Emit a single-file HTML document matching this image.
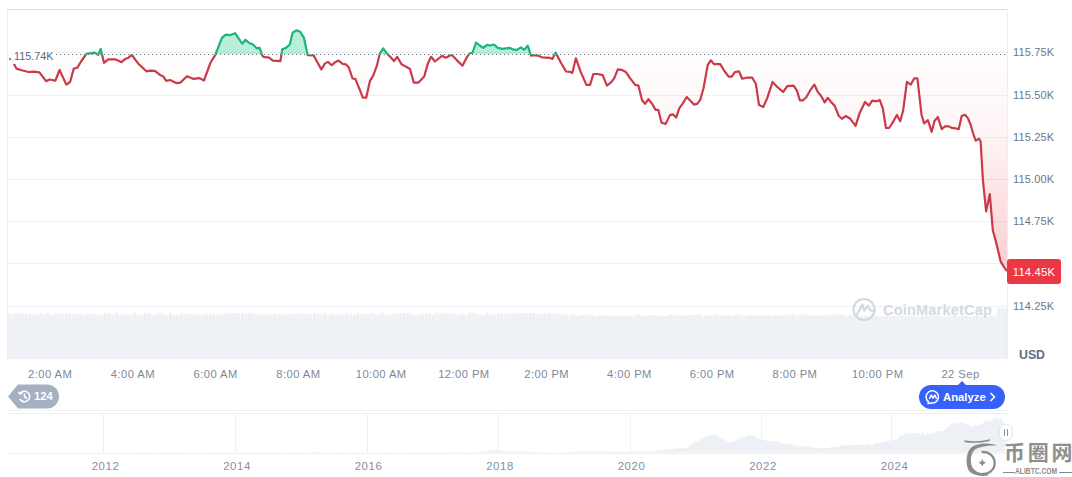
<!DOCTYPE html>
<html><head><meta charset="utf-8"><style>
*{margin:0;padding:0;box-sizing:border-box}
html,body{width:1072px;height:477px;overflow:hidden;background:#fff}
body{position:relative;font-family:"Liberation Sans",Arial,sans-serif;color:#616e85}
svg{position:absolute;left:0;top:0}
.tl{position:absolute;top:367px;width:80px;text-align:center;font-size:11.2px;letter-spacing:0.45px;line-height:14px;color:#7e889b;white-space:nowrap}
.yl{position:absolute;top:459px;width:60px;text-align:center;font-size:11.4px;letter-spacing:0.6px;line-height:14px;color:#858fa1}
.pl{position:absolute;left:1013px;font-size:11px;letter-spacing:0.15px;line-height:16px;color:#6c778a;white-space:nowrap}
#usd{position:absolute;left:1019px;top:347.7px;font-size:12.3px;font-weight:bold;line-height:14px;color:#616e85}
#cur{position:absolute;left:1007px;top:259px;width:54px;height:25px;background:#ea3943;border-radius:3px;color:#fff;font-size:11.3px;letter-spacing:0.15px;line-height:26px;text-align:center}
#ref{position:absolute;left:8px;top:49px;height:15px;padding:0 3px 0 6px;font-size:10.8px;line-height:15px;color:#58667e;background:rgba(255,255,255,0.9)}
#ref:before{content:"";position:absolute;left:0.5px;top:8.5px;width:2.5px;height:2.5px;border-radius:50%;background:#58667e}
#hist{position:absolute;left:8px;top:384px;width:51px;height:25px}
#hist span{position:absolute;left:26px;top:0;line-height:25px;font-size:11.3px;font-weight:bold;color:#fff}
#an{position:absolute;left:919px;top:385px;width:86px;height:24px;border-radius:12px;background:#3861fb;color:#fff}
#an:before{content:"";position:absolute;left:38px;top:-4px;border-left:5px solid transparent;border-right:5px solid transparent;border-bottom:5px solid #3861fb}
#an span{position:absolute;left:24px;top:0;line-height:24px;font-size:11.3px;font-weight:bold}
#cmc{position:absolute;left:883px;top:302px;font-size:14.5px;font-weight:bold;color:#d3d9e3;letter-spacing:0.2px;white-space:nowrap}
#wm1{position:absolute;left:1004px;top:439.5px;font-family:"Liberation Sans","Noto Sans CJK SC",sans-serif;font-size:21px;line-height:26px;color:#8a8a8a;letter-spacing:2.7px;white-space:nowrap;font-weight:bold;color:#8f8f8f}
#wm2{position:absolute;left:1015px;top:466px;font-size:8.6px;line-height:10px;color:#8a8a8a;white-space:nowrap;font-weight:bold;transform:scaleX(0.78);transform-origin:0 0}
#wm2l,#wm2r{position:absolute;top:472px;height:1px;background:#8a8a8a}
</style></head><body>
<svg width="1072" height="477" viewBox="0 0 1072 477">
<defs>
<linearGradient id="rg" gradientUnits="userSpaceOnUse" x1="0" y1="54.5" x2="0" y2="272">
<stop offset="0" stop-color="#ea3943" stop-opacity="0.01"/>
<stop offset="0.35" stop-color="#ea3943" stop-opacity="0.05"/>
<stop offset="1" stop-color="#ea3943" stop-opacity="0.25"/>
</linearGradient>
<clipPath id="above"><rect x="0" y="0" width="1072" height="54.5"/></clipPath>
<clipPath id="below"><rect x="0" y="54.5" width="1072" height="400"/></clipPath>
<clipPath id="plot"><rect x="7" y="9" width="1000" height="351"/></clipPath>
</defs>
<!-- frame -->
<line x1="7" y1="9.5" x2="1008" y2="9.5" stroke="#dedede" stroke-width="1"/>
<line x1="7.5" y1="9" x2="7.5" y2="359" stroke="#eeeeee" stroke-width="1"/>
<line x1="1007.5" y1="9" x2="1007.5" y2="359" stroke="#eeeeee" stroke-width="1"/>
<line x1="7" y1="52.5" x2="1007" y2="52.5" stroke="#eef0f3" stroke-width="1"/>
<line x1="7" y1="95.5" x2="1007" y2="95.5" stroke="#eef0f3" stroke-width="1"/>
<line x1="7" y1="137.5" x2="1007" y2="137.5" stroke="#eef0f3" stroke-width="1"/>
<line x1="7" y1="179.5" x2="1007" y2="179.5" stroke="#eef0f3" stroke-width="1"/>
<line x1="7" y1="221.5" x2="1007" y2="221.5" stroke="#eef0f3" stroke-width="1"/>
<line x1="7" y1="263.5" x2="1007" y2="263.5" stroke="#eef0f3" stroke-width="1"/>
<line x1="7" y1="306.5" x2="1007" y2="306.5" stroke="#eef0f3" stroke-width="1"/>
<rect x="7" y="316" width="1000" height="43" fill="#f6f7f9"/><g fill="#edf0f4"><rect x="7.0" y="312.8" width="2.9" height="46.2" />
<rect x="10.6" y="313.8" width="2.9" height="45.2" />
<rect x="14.2" y="313.8" width="2.9" height="45.2" />
<rect x="17.8" y="312.8" width="2.9" height="46.2" />
<rect x="21.4" y="313.3" width="2.9" height="45.7" />
<rect x="25.0" y="313.8" width="2.9" height="45.2" />
<rect x="28.6" y="313.8" width="2.9" height="45.2" />
<rect x="32.2" y="314.3" width="2.9" height="44.7" />
<rect x="35.8" y="313.8" width="2.9" height="45.2" />
<rect x="39.4" y="312.8" width="2.9" height="46.2" />
<rect x="43.0" y="313.8" width="2.9" height="45.2" />
<rect x="46.6" y="312.8" width="2.9" height="46.2" />
<rect x="50.2" y="314.8" width="2.9" height="44.2" />
<rect x="53.8" y="313.8" width="2.9" height="45.2" />
<rect x="57.4" y="313.3" width="2.9" height="45.7" />
<rect x="61.0" y="313.8" width="2.9" height="45.2" />
<rect x="64.6" y="312.8" width="2.9" height="46.2" />
<rect x="68.2" y="312.8" width="2.9" height="46.2" />
<rect x="71.8" y="314.3" width="2.9" height="44.7" />
<rect x="75.4" y="313.8" width="2.9" height="45.2" />
<rect x="79.0" y="313.8" width="2.9" height="45.2" />
<rect x="82.6" y="314.8" width="2.9" height="44.2" />
<rect x="86.2" y="313.8" width="2.9" height="45.2" />
<rect x="89.8" y="313.8" width="2.9" height="45.2" />
<rect x="93.4" y="313.8" width="2.9" height="45.2" />
<rect x="97.0" y="314.3" width="2.9" height="44.7" />
<rect x="100.6" y="314.8" width="2.9" height="44.2" />
<rect x="104.2" y="312.8" width="2.9" height="46.2" />
<rect x="107.8" y="312.8" width="2.9" height="46.2" />
<rect x="111.4" y="314.3" width="2.9" height="44.7" />
<rect x="115.0" y="312.8" width="2.9" height="46.2" />
<rect x="118.6" y="314.8" width="2.9" height="44.2" />
<rect x="122.2" y="313.8" width="2.9" height="45.2" />
<rect x="125.8" y="313.8" width="2.9" height="45.2" />
<rect x="129.4" y="314.3" width="2.9" height="44.7" />
<rect x="133.0" y="312.8" width="2.9" height="46.2" />
<rect x="136.6" y="314.3" width="2.9" height="44.7" />
<rect x="140.2" y="314.8" width="2.9" height="44.2" />
<rect x="143.8" y="312.8" width="2.9" height="46.2" />
<rect x="147.4" y="312.8" width="2.9" height="46.2" />
<rect x="151.0" y="314.8" width="2.9" height="44.2" />
<rect x="154.6" y="313.8" width="2.9" height="45.2" />
<rect x="158.2" y="312.8" width="2.9" height="46.2" />
<rect x="161.8" y="313.3" width="2.9" height="45.7" />
<rect x="165.4" y="314.8" width="2.9" height="44.2" />
<rect x="169.0" y="312.8" width="2.9" height="46.2" />
<rect x="172.6" y="314.8" width="2.9" height="44.2" />
<rect x="176.2" y="314.8" width="2.9" height="44.2" />
<rect x="179.8" y="313.3" width="2.9" height="45.7" />
<rect x="183.4" y="313.8" width="2.9" height="45.2" />
<rect x="187.0" y="313.8" width="2.9" height="45.2" />
<rect x="190.6" y="314.3" width="2.9" height="44.7" />
<rect x="194.2" y="313.8" width="2.9" height="45.2" />
<rect x="197.8" y="314.3" width="2.9" height="44.7" />
<rect x="201.4" y="314.8" width="2.9" height="44.2" />
<rect x="205.0" y="313.8" width="2.9" height="45.2" />
<rect x="208.6" y="313.8" width="2.9" height="45.2" />
<rect x="212.2" y="314.3" width="2.9" height="44.7" />
<rect x="215.8" y="314.8" width="2.9" height="44.2" />
<rect x="219.4" y="313.8" width="2.9" height="45.2" />
<rect x="223.0" y="313.8" width="2.9" height="45.2" />
<rect x="226.6" y="312.8" width="2.9" height="46.2" />
<rect x="230.2" y="313.3" width="2.9" height="45.7" />
<rect x="233.8" y="312.8" width="2.9" height="46.2" />
<rect x="237.4" y="312.8" width="2.9" height="46.2" />
<rect x="241.0" y="312.8" width="2.9" height="46.2" />
<rect x="244.6" y="313.8" width="2.9" height="45.2" />
<rect x="248.2" y="312.8" width="2.9" height="46.2" />
<rect x="251.8" y="313.3" width="2.9" height="45.7" />
<rect x="255.4" y="314.3" width="2.9" height="44.7" />
<rect x="259.0" y="313.8" width="2.9" height="45.2" />
<rect x="262.6" y="314.8" width="2.9" height="44.2" />
<rect x="266.2" y="314.3" width="2.9" height="44.7" />
<rect x="269.8" y="314.8" width="2.9" height="44.2" />
<rect x="273.4" y="313.3" width="2.9" height="45.7" />
<rect x="277.0" y="313.8" width="2.9" height="45.2" />
<rect x="280.6" y="313.8" width="2.9" height="45.2" />
<rect x="284.2" y="314.8" width="2.9" height="44.2" />
<rect x="287.8" y="313.8" width="2.9" height="45.2" />
<rect x="291.4" y="313.8" width="2.9" height="45.2" />
<rect x="295.0" y="313.3" width="2.9" height="45.7" />
<rect x="298.6" y="313.8" width="2.9" height="45.2" />
<rect x="302.2" y="313.8" width="2.9" height="45.2" />
<rect x="305.8" y="313.8" width="2.9" height="45.2" />
<rect x="309.4" y="313.8" width="2.9" height="45.2" />
<rect x="313.0" y="312.8" width="2.9" height="46.2" />
<rect x="316.6" y="313.3" width="2.9" height="45.7" />
<rect x="320.2" y="314.3" width="2.9" height="44.7" />
<rect x="323.8" y="312.8" width="2.9" height="46.2" />
<rect x="327.4" y="314.8" width="2.9" height="44.2" />
<rect x="331.0" y="313.3" width="2.9" height="45.7" />
<rect x="334.6" y="313.8" width="2.9" height="45.2" />
<rect x="338.2" y="314.3" width="2.9" height="44.7" />
<rect x="341.8" y="314.3" width="2.9" height="44.7" />
<rect x="345.4" y="312.8" width="2.9" height="46.2" />
<rect x="349.0" y="314.3" width="2.9" height="44.7" />
<rect x="352.6" y="314.8" width="2.9" height="44.2" />
<rect x="356.2" y="313.3" width="2.9" height="45.7" />
<rect x="359.8" y="313.8" width="2.9" height="45.2" />
<rect x="363.4" y="313.8" width="2.9" height="45.2" />
<rect x="367.0" y="313.8" width="2.9" height="45.2" />
<rect x="370.6" y="312.8" width="2.9" height="46.2" />
<rect x="374.2" y="314.3" width="2.9" height="44.7" />
<rect x="377.8" y="314.3" width="2.9" height="44.7" />
<rect x="381.4" y="312.8" width="2.9" height="46.2" />
<rect x="385.0" y="314.3" width="2.9" height="44.7" />
<rect x="388.6" y="314.8" width="2.9" height="44.2" />
<rect x="392.2" y="313.8" width="2.9" height="45.2" />
<rect x="395.8" y="313.3" width="2.9" height="45.7" />
<rect x="399.4" y="313.3" width="2.9" height="45.7" />
<rect x="403.0" y="312.8" width="2.9" height="46.2" />
<rect x="406.6" y="312.8" width="2.9" height="46.2" />
<rect x="410.2" y="313.8" width="2.9" height="45.2" />
<rect x="413.8" y="314.8" width="2.9" height="44.2" />
<rect x="417.4" y="314.3" width="2.9" height="44.7" />
<rect x="421.0" y="313.8" width="2.9" height="45.2" />
<rect x="424.6" y="312.8" width="2.9" height="46.2" />
<rect x="428.2" y="313.3" width="2.9" height="45.7" />
<rect x="431.8" y="314.8" width="2.9" height="44.2" />
<rect x="435.4" y="312.8" width="2.9" height="46.2" />
<rect x="439.0" y="313.8" width="2.9" height="45.2" />
<rect x="442.6" y="312.8" width="2.9" height="46.2" />
<rect x="446.2" y="312.8" width="2.9" height="46.2" />
<rect x="449.8" y="313.3" width="2.9" height="45.7" />
<rect x="453.4" y="313.8" width="2.9" height="45.2" />
<rect x="457.0" y="314.8" width="2.9" height="44.2" />
<rect x="460.6" y="313.8" width="2.9" height="45.2" />
<rect x="464.2" y="314.8" width="2.9" height="44.2" />
<rect x="467.8" y="312.8" width="2.9" height="46.2" />
<rect x="471.4" y="312.8" width="2.9" height="46.2" />
<rect x="475.0" y="313.8" width="2.9" height="45.2" />
<rect x="478.6" y="313.8" width="2.9" height="45.2" />
<rect x="482.2" y="314.8" width="2.9" height="44.2" />
<rect x="485.8" y="312.8" width="2.9" height="46.2" />
<rect x="489.4" y="313.8" width="2.9" height="45.2" />
<rect x="493.0" y="314.3" width="2.9" height="44.7" />
<rect x="496.6" y="313.8" width="2.9" height="45.2" />
<rect x="500.2" y="313.3" width="2.9" height="45.7" />
<rect x="503.8" y="313.8" width="2.9" height="45.2" />
<rect x="507.4" y="313.3" width="2.9" height="45.7" />
<rect x="511.0" y="313.8" width="2.9" height="45.2" />
<rect x="514.6" y="312.8" width="2.9" height="46.2" />
<rect x="518.2" y="312.8" width="2.9" height="46.2" />
<rect x="521.8" y="313.3" width="2.9" height="45.7" />
<rect x="525.4" y="312.8" width="2.9" height="46.2" />
<rect x="529.0" y="312.8" width="2.9" height="46.2" />
<rect x="532.6" y="312.8" width="2.9" height="46.2" />
<rect x="536.2" y="313.8" width="2.9" height="45.2" />
<rect x="539.8" y="313.8" width="2.9" height="45.2" />
<rect x="543.4" y="312.8" width="2.9" height="46.2" />
<rect x="547.0" y="312.8" width="2.9" height="46.2" />
<rect x="550.6" y="313.8" width="2.9" height="45.2" />
<rect x="554.2" y="313.3" width="2.9" height="45.7" />
<rect x="557.8" y="313.8" width="2.9" height="45.2" />
<rect x="561.4" y="314.8" width="2.9" height="44.2" />
<rect x="565.0" y="314.3" width="2.9" height="44.7" />
<rect x="568.6" y="315.8" width="2.9" height="43.2" />
<rect x="572.2" y="314.3" width="2.9" height="44.7" />
<rect x="575.8" y="316.3" width="2.9" height="42.7" />
<rect x="579.4" y="314.8" width="2.9" height="44.2" />
<rect x="583.0" y="314.8" width="2.9" height="44.2" />
<rect x="586.6" y="314.8" width="2.9" height="44.2" />
<rect x="590.2" y="314.3" width="2.9" height="44.7" />
<rect x="593.8" y="316.3" width="2.9" height="42.7" />
<rect x="597.4" y="315.3" width="2.9" height="43.7" />
<rect x="601.0" y="315.3" width="2.9" height="43.7" />
<rect x="604.6" y="315.3" width="2.9" height="43.7" />
<rect x="608.2" y="316.3" width="2.9" height="42.7" />
<rect x="611.8" y="315.3" width="2.9" height="43.7" />
<rect x="615.4" y="315.3" width="2.9" height="43.7" />
<rect x="619.0" y="315.8" width="2.9" height="43.2" />
<rect x="622.6" y="316.3" width="2.9" height="42.7" />
<rect x="626.2" y="315.3" width="2.9" height="43.7" />
<rect x="629.8" y="315.8" width="2.9" height="43.2" />
<rect x="633.4" y="315.3" width="2.9" height="43.7" />
<rect x="637.0" y="314.3" width="2.9" height="44.7" />
<rect x="640.6" y="315.3" width="2.9" height="43.7" />
<rect x="644.2" y="316.3" width="2.9" height="42.7" />
<rect x="647.8" y="315.3" width="2.9" height="43.7" />
<rect x="651.4" y="314.8" width="2.9" height="44.2" />
<rect x="655.0" y="315.3" width="2.9" height="43.7" />
<rect x="658.6" y="315.8" width="2.9" height="43.2" />
<rect x="662.2" y="315.8" width="2.9" height="43.2" />
<rect x="665.8" y="315.8" width="2.9" height="43.2" />
<rect x="669.4" y="314.3" width="2.9" height="44.7" />
<rect x="673.0" y="314.8" width="2.9" height="44.2" />
<rect x="676.6" y="315.3" width="2.9" height="43.7" />
<rect x="680.2" y="314.8" width="2.9" height="44.2" />
<rect x="683.8" y="315.3" width="2.9" height="43.7" />
<rect x="687.4" y="314.8" width="2.9" height="44.2" />
<rect x="691.0" y="315.3" width="2.9" height="43.7" />
<rect x="694.6" y="314.8" width="2.9" height="44.2" />
<rect x="698.2" y="314.3" width="2.9" height="44.7" />
<rect x="701.8" y="316.3" width="2.9" height="42.7" />
<rect x="705.4" y="315.3" width="2.9" height="43.7" />
<rect x="709.0" y="315.3" width="2.9" height="43.7" />
<rect x="712.6" y="314.8" width="2.9" height="44.2" />
<rect x="716.2" y="314.3" width="2.9" height="44.7" />
<rect x="719.8" y="315.3" width="2.9" height="43.7" />
<rect x="723.4" y="315.3" width="2.9" height="43.7" />
<rect x="727.0" y="315.3" width="2.9" height="43.7" />
<rect x="730.6" y="315.8" width="2.9" height="43.2" />
<rect x="734.2" y="314.3" width="2.9" height="44.7" />
<rect x="737.8" y="314.3" width="2.9" height="44.7" />
<rect x="741.4" y="315.8" width="2.9" height="43.2" />
<rect x="745.0" y="315.8" width="2.9" height="43.2" />
<rect x="748.6" y="314.8" width="2.9" height="44.2" />
<rect x="752.2" y="315.3" width="2.9" height="43.7" />
<rect x="755.8" y="314.8" width="2.9" height="44.2" />
<rect x="759.4" y="315.8" width="2.9" height="43.2" />
<rect x="763.0" y="314.8" width="2.9" height="44.2" />
<rect x="766.6" y="315.3" width="2.9" height="43.7" />
<rect x="770.2" y="315.8" width="2.9" height="43.2" />
<rect x="773.8" y="314.8" width="2.9" height="44.2" />
<rect x="777.4" y="315.8" width="2.9" height="43.2" />
<rect x="781.0" y="315.3" width="2.9" height="43.7" />
<rect x="784.6" y="314.3" width="2.9" height="44.7" />
<rect x="788.2" y="315.3" width="2.9" height="43.7" />
<rect x="791.8" y="314.3" width="2.9" height="44.7" />
<rect x="795.4" y="315.8" width="2.9" height="43.2" />
<rect x="799.0" y="314.3" width="2.9" height="44.7" />
<rect x="802.6" y="314.8" width="2.9" height="44.2" />
<rect x="806.2" y="314.8" width="2.9" height="44.2" />
<rect x="809.8" y="315.8" width="2.9" height="43.2" />
<rect x="813.4" y="315.3" width="2.9" height="43.7" />
<rect x="817.0" y="314.8" width="2.9" height="44.2" />
<rect x="820.6" y="315.3" width="2.9" height="43.7" />
<rect x="824.2" y="315.3" width="2.9" height="43.7" />
<rect x="827.8" y="314.8" width="2.9" height="44.2" />
<rect x="831.4" y="314.3" width="2.9" height="44.7" />
<rect x="835.0" y="314.8" width="2.9" height="44.2" />
<rect x="838.6" y="314.3" width="2.9" height="44.7" />
<rect x="842.2" y="314.8" width="2.9" height="44.2" />
<rect x="845.8" y="316.3" width="2.9" height="42.7" />
<rect x="849.4" y="314.8" width="2.9" height="44.2" />
<rect x="853.0" y="317.3" width="2.9" height="41.7" />
<rect x="856.6" y="316.3" width="2.9" height="42.7" />
<rect x="860.2" y="315.8" width="2.9" height="43.2" />
<rect x="863.8" y="315.8" width="2.9" height="43.2" />
<rect x="867.4" y="317.3" width="2.9" height="41.7" />
<rect x="871.0" y="316.3" width="2.9" height="42.7" />
<rect x="874.6" y="315.3" width="2.9" height="43.7" />
<rect x="878.2" y="317.3" width="2.9" height="41.7" />
<rect x="881.8" y="317.3" width="2.9" height="41.7" />
<rect x="885.4" y="315.3" width="2.9" height="43.7" />
<rect x="889.0" y="316.3" width="2.9" height="42.7" />
<rect x="892.6" y="316.8" width="2.9" height="42.2" />
<rect x="896.2" y="316.8" width="2.9" height="42.2" />
<rect x="899.8" y="315.3" width="2.9" height="43.7" />
<rect x="903.4" y="315.8" width="2.9" height="43.2" />
<rect x="907.0" y="316.3" width="2.9" height="42.7" />
<rect x="910.6" y="315.3" width="2.9" height="43.7" />
<rect x="914.2" y="316.8" width="2.9" height="42.2" />
<rect x="917.8" y="317.3" width="2.9" height="41.7" />
<rect x="921.4" y="315.8" width="2.9" height="43.2" />
<rect x="925.0" y="315.3" width="2.9" height="43.7" />
<rect x="928.6" y="315.8" width="2.9" height="43.2" />
<rect x="932.2" y="315.3" width="2.9" height="43.7" />
<rect x="935.8" y="316.8" width="2.9" height="42.2" />
<rect x="939.4" y="316.3" width="2.9" height="42.7" />
<rect x="943.0" y="316.8" width="2.9" height="42.2" />
<rect x="946.6" y="316.8" width="2.9" height="42.2" />
<rect x="950.2" y="315.3" width="2.9" height="43.7" />
<rect x="953.8" y="315.3" width="2.9" height="43.7" />
<rect x="957.4" y="316.3" width="2.9" height="42.7" />
<rect x="961.0" y="315.8" width="2.9" height="43.2" />
<rect x="964.6" y="315.8" width="2.9" height="43.2" />
<rect x="968.2" y="316.8" width="2.9" height="42.2" />
<rect x="971.8" y="317.3" width="2.9" height="41.7" />
<rect x="975.4" y="315.3" width="2.9" height="43.7" />
<rect x="979.0" y="316.3" width="2.9" height="42.7" />
<rect x="982.6" y="317.3" width="2.9" height="41.7" />
<rect x="986.2" y="317.3" width="2.9" height="41.7" />
<rect x="989.8" y="315.3" width="2.9" height="43.7" />
<rect x="993.4" y="315.3" width="2.9" height="43.7" />
<rect x="997.0" y="308.0" width="2.9" height="51.0" />
<rect x="1000.6" y="308.0" width="2.9" height="51.0" />
<rect x="1004.2" y="308.0" width="2.9" height="51.0" /></g>
<g clip-path="url(#plot)">
<path d="M9.3,58.7 L12.6,61.2 L16.4,68.6 L21.8,70.3 L28.5,72.0 L33.6,71.6 L39.4,72.3 L46.1,81.2 L49.5,79.5 L55.4,80.7 L59.6,70.0 L66.3,84.6 L70.1,82.0 L73.8,68.6 L77.2,67.8 L81.4,61.0 L86.4,53.9 L91.4,53.2 L94.8,52.7 L98.2,54.9 L100.7,49.0 L104.0,62.8 L108.2,59.4 L115.8,59.4 L121.6,62.2 L125.7,58.7 L128.5,57.7 L131.7,54.9 L138.9,64.3 L146.4,71.3 L150.2,70.6 L154.9,70.9 L159.6,74.7 L163.4,76.6 L166.2,80.8 L170.0,80.0 L176.6,83.2 L180.4,82.6 L187.0,76.2 L193.6,78.9 L199.2,78.1 L204.0,80.4 L210.6,62.5 L215.3,54.9 L221.9,37.9 L225.7,34.7 L230.4,35.1 L235.1,33.2 L238.9,38.9 L242.3,43.6 L245.5,39.8 L249.2,43.0 L253.0,44.5 L256.8,48.3 L259.6,47.9 L262.5,55.8 L263.4,56.8 L269.0,57.7 L272.8,60.6 L280.4,61.1 L282.3,49.2 L286.0,47.9 L289.8,44.5 L292.6,32.8 L296.4,30.4 L300.2,31.7 L304.0,37.9 L307.7,55.2 L313.6,55.4 L317.5,62.5 L321.3,69.4 L325.1,63.4 L327.9,61.9 L331.7,65.3 L335.5,61.9 L338.7,60.6 L342.5,63.8 L345.8,64.3 L348.7,67.2 L352.5,78.5 L355.3,78.9 L359.0,87.9 L362.8,97.7 L366.2,97.7 L370.0,80.8 L373.2,75.7 L377.0,65.3 L379.8,53.6 L383.2,48.3 L387.0,53.6 L390.2,56.8 L394.0,61.1 L397.2,56.8 L401.5,64.3 L406.2,66.8 L410.0,69.0 L413.8,82.6 L418.5,82.6 L424.2,76.6 L427.9,63.4 L431.1,56.8 L434.9,61.5 L442.1,55.8 L445.8,57.7 L449.6,55.8 L451.9,55.0 L457.2,60.6 L462.5,65.7 L466.6,57.7 L469.4,53.6 L472.6,52.5 L476.0,42.6 L479.8,45.5 L483.2,47.9 L487.0,44.9 L490.2,45.5 L494.0,44.5 L497.7,47.9 L502.5,48.9 L509.4,47.8 L512.6,49.3 L516.8,49.9 L521.0,47.4 L524.1,49.9 L527.7,45.7 L531.0,55.6 L534.6,55.2 L537.7,55.6 L541.9,57.3 L550.3,57.9 L552.4,58.9 L555.6,52.6 L560.8,62.5 L566.0,71.5 L570.2,71.9 L572.3,73.0 L575.9,58.3 L580.7,71.9 L586.4,84.9 L590.1,84.9 L593.3,74.0 L597.5,74.0 L602.7,75.1 L606.9,85.6 L611.1,82.4 L614.3,78.2 L617.8,69.4 L621.6,69.8 L625.8,71.9 L630.0,78.2 L635.2,84.9 L638.4,85.6 L642.1,100.2 L645.1,103.8 L648.4,99.2 L652.5,104.4 L655.4,109.6 L658.4,110.2 L661.5,122.8 L665.7,123.9 L669.9,115.1 L673.1,114.4 L676.2,117.6 L679.4,108.1 L682.5,103.9 L686.7,97.0 L690.9,101.2 L694.0,104.6 L697.2,103.9 L700.3,99.7 L703.5,88.2 L707.7,65.2 L710.8,60.3 L713.9,64.1 L720.2,64.1 L724.4,71.0 L728.6,76.7 L731.8,76.7 L734.9,72.1 L739.1,71.4 L742.2,78.8 L746.4,77.7 L752.3,77.7 L755.9,84.0 L759.0,105.0 L763.2,107.1 L767.4,97.7 L772.6,81.9 L777.5,87.2 L783.1,92.0 L787.3,86.1 L793.6,85.7 L796.8,90.3 L799.9,100.3 L803.1,100.3 L806.3,97.2 L810.5,89.8 L814.3,84.6 L817.8,91.9 L821.0,95.7 L824.7,102.4 L827.7,97.8 L831.4,102.4 L834.6,105.6 L838.8,116.0 L841.9,118.8 L845.7,116.0 L850.3,118.8 L855.6,125.9 L859.7,112.9 L865.0,102.0 L868.8,105.6 L872.3,100.7 L876.5,101.4 L879.7,99.9 L882.8,108.3 L886.0,128.0 L889.1,128.0 L892.2,123.4 L896.9,115.0 L900.2,121.3 L903.1,110.8 L906.9,81.9 L910.7,84.6 L914.3,78.3 L917.4,78.3 L921.6,115.0 L924.1,123.4 L927.9,120.2 L931.7,131.8 L934.5,121.0 L937.9,117.0 L941.7,129.2 L945.1,126.4 L948.9,126.4 L951.7,127.9 L955.5,128.3 L958.7,129.2 L961.7,116.0 L964.9,114.7 L967.7,117.9 L970.6,124.5 L973.0,133.0 L975.7,140.6 L979.0,138.7 L980.6,141.5 L982.9,180.0 L986.1,211.4 L989.8,194.2 L992.8,230.3 L996.5,243.9 L1000.7,261.7 L1003.9,266.9 L1007.0,271.1 L1007.0,54.5 L9.3,54.5 Z" fill="url(#rg)" clip-path="url(#below)"/>
<path d="M9.3,58.7 L12.6,61.2 L16.4,68.6 L21.8,70.3 L28.5,72.0 L33.6,71.6 L39.4,72.3 L46.1,81.2 L49.5,79.5 L55.4,80.7 L59.6,70.0 L66.3,84.6 L70.1,82.0 L73.8,68.6 L77.2,67.8 L81.4,61.0 L86.4,53.9 L91.4,53.2 L94.8,52.7 L98.2,54.9 L100.7,49.0 L104.0,62.8 L108.2,59.4 L115.8,59.4 L121.6,62.2 L125.7,58.7 L128.5,57.7 L131.7,54.9 L138.9,64.3 L146.4,71.3 L150.2,70.6 L154.9,70.9 L159.6,74.7 L163.4,76.6 L166.2,80.8 L170.0,80.0 L176.6,83.2 L180.4,82.6 L187.0,76.2 L193.6,78.9 L199.2,78.1 L204.0,80.4 L210.6,62.5 L215.3,54.9 L221.9,37.9 L225.7,34.7 L230.4,35.1 L235.1,33.2 L238.9,38.9 L242.3,43.6 L245.5,39.8 L249.2,43.0 L253.0,44.5 L256.8,48.3 L259.6,47.9 L262.5,55.8 L263.4,56.8 L269.0,57.7 L272.8,60.6 L280.4,61.1 L282.3,49.2 L286.0,47.9 L289.8,44.5 L292.6,32.8 L296.4,30.4 L300.2,31.7 L304.0,37.9 L307.7,55.2 L313.6,55.4 L317.5,62.5 L321.3,69.4 L325.1,63.4 L327.9,61.9 L331.7,65.3 L335.5,61.9 L338.7,60.6 L342.5,63.8 L345.8,64.3 L348.7,67.2 L352.5,78.5 L355.3,78.9 L359.0,87.9 L362.8,97.7 L366.2,97.7 L370.0,80.8 L373.2,75.7 L377.0,65.3 L379.8,53.6 L383.2,48.3 L387.0,53.6 L390.2,56.8 L394.0,61.1 L397.2,56.8 L401.5,64.3 L406.2,66.8 L410.0,69.0 L413.8,82.6 L418.5,82.6 L424.2,76.6 L427.9,63.4 L431.1,56.8 L434.9,61.5 L442.1,55.8 L445.8,57.7 L449.6,55.8 L451.9,55.0 L457.2,60.6 L462.5,65.7 L466.6,57.7 L469.4,53.6 L472.6,52.5 L476.0,42.6 L479.8,45.5 L483.2,47.9 L487.0,44.9 L490.2,45.5 L494.0,44.5 L497.7,47.9 L502.5,48.9 L509.4,47.8 L512.6,49.3 L516.8,49.9 L521.0,47.4 L524.1,49.9 L527.7,45.7 L531.0,55.6 L534.6,55.2 L537.7,55.6 L541.9,57.3 L550.3,57.9 L552.4,58.9 L555.6,52.6 L560.8,62.5 L566.0,71.5 L570.2,71.9 L572.3,73.0 L575.9,58.3 L580.7,71.9 L586.4,84.9 L590.1,84.9 L593.3,74.0 L597.5,74.0 L602.7,75.1 L606.9,85.6 L611.1,82.4 L614.3,78.2 L617.8,69.4 L621.6,69.8 L625.8,71.9 L630.0,78.2 L635.2,84.9 L638.4,85.6 L642.1,100.2 L645.1,103.8 L648.4,99.2 L652.5,104.4 L655.4,109.6 L658.4,110.2 L661.5,122.8 L665.7,123.9 L669.9,115.1 L673.1,114.4 L676.2,117.6 L679.4,108.1 L682.5,103.9 L686.7,97.0 L690.9,101.2 L694.0,104.6 L697.2,103.9 L700.3,99.7 L703.5,88.2 L707.7,65.2 L710.8,60.3 L713.9,64.1 L720.2,64.1 L724.4,71.0 L728.6,76.7 L731.8,76.7 L734.9,72.1 L739.1,71.4 L742.2,78.8 L746.4,77.7 L752.3,77.7 L755.9,84.0 L759.0,105.0 L763.2,107.1 L767.4,97.7 L772.6,81.9 L777.5,87.2 L783.1,92.0 L787.3,86.1 L793.6,85.7 L796.8,90.3 L799.9,100.3 L803.1,100.3 L806.3,97.2 L810.5,89.8 L814.3,84.6 L817.8,91.9 L821.0,95.7 L824.7,102.4 L827.7,97.8 L831.4,102.4 L834.6,105.6 L838.8,116.0 L841.9,118.8 L845.7,116.0 L850.3,118.8 L855.6,125.9 L859.7,112.9 L865.0,102.0 L868.8,105.6 L872.3,100.7 L876.5,101.4 L879.7,99.9 L882.8,108.3 L886.0,128.0 L889.1,128.0 L892.2,123.4 L896.9,115.0 L900.2,121.3 L903.1,110.8 L906.9,81.9 L910.7,84.6 L914.3,78.3 L917.4,78.3 L921.6,115.0 L924.1,123.4 L927.9,120.2 L931.7,131.8 L934.5,121.0 L937.9,117.0 L941.7,129.2 L945.1,126.4 L948.9,126.4 L951.7,127.9 L955.5,128.3 L958.7,129.2 L961.7,116.0 L964.9,114.7 L967.7,117.9 L970.6,124.5 L973.0,133.0 L975.7,140.6 L979.0,138.7 L980.6,141.5 L982.9,180.0 L986.1,211.4 L989.8,194.2 L992.8,230.3 L996.5,243.9 L1000.7,261.7 L1003.9,266.9 L1007.0,271.1 L1007.0,54.5 L9.3,54.5 Z" fill="#16c784" fill-opacity="0.3" clip-path="url(#above)"/>
<line x1="8" y1="54.5" x2="1007" y2="54.5" stroke="#686c74" stroke-width="1" stroke-dasharray="1 3"/>
<path d="M9.3,58.7 L12.6,61.2 L16.4,68.6 L21.8,70.3 L28.5,72.0 L33.6,71.6 L39.4,72.3 L46.1,81.2 L49.5,79.5 L55.4,80.7 L59.6,70.0 L66.3,84.6 L70.1,82.0 L73.8,68.6 L77.2,67.8 L81.4,61.0 L86.4,53.9 L91.4,53.2 L94.8,52.7 L98.2,54.9 L100.7,49.0 L104.0,62.8 L108.2,59.4 L115.8,59.4 L121.6,62.2 L125.7,58.7 L128.5,57.7 L131.7,54.9 L138.9,64.3 L146.4,71.3 L150.2,70.6 L154.9,70.9 L159.6,74.7 L163.4,76.6 L166.2,80.8 L170.0,80.0 L176.6,83.2 L180.4,82.6 L187.0,76.2 L193.6,78.9 L199.2,78.1 L204.0,80.4 L210.6,62.5 L215.3,54.9 L221.9,37.9 L225.7,34.7 L230.4,35.1 L235.1,33.2 L238.9,38.9 L242.3,43.6 L245.5,39.8 L249.2,43.0 L253.0,44.5 L256.8,48.3 L259.6,47.9 L262.5,55.8 L263.4,56.8 L269.0,57.7 L272.8,60.6 L280.4,61.1 L282.3,49.2 L286.0,47.9 L289.8,44.5 L292.6,32.8 L296.4,30.4 L300.2,31.7 L304.0,37.9 L307.7,55.2 L313.6,55.4 L317.5,62.5 L321.3,69.4 L325.1,63.4 L327.9,61.9 L331.7,65.3 L335.5,61.9 L338.7,60.6 L342.5,63.8 L345.8,64.3 L348.7,67.2 L352.5,78.5 L355.3,78.9 L359.0,87.9 L362.8,97.7 L366.2,97.7 L370.0,80.8 L373.2,75.7 L377.0,65.3 L379.8,53.6 L383.2,48.3 L387.0,53.6 L390.2,56.8 L394.0,61.1 L397.2,56.8 L401.5,64.3 L406.2,66.8 L410.0,69.0 L413.8,82.6 L418.5,82.6 L424.2,76.6 L427.9,63.4 L431.1,56.8 L434.9,61.5 L442.1,55.8 L445.8,57.7 L449.6,55.8 L451.9,55.0 L457.2,60.6 L462.5,65.7 L466.6,57.7 L469.4,53.6 L472.6,52.5 L476.0,42.6 L479.8,45.5 L483.2,47.9 L487.0,44.9 L490.2,45.5 L494.0,44.5 L497.7,47.9 L502.5,48.9 L509.4,47.8 L512.6,49.3 L516.8,49.9 L521.0,47.4 L524.1,49.9 L527.7,45.7 L531.0,55.6 L534.6,55.2 L537.7,55.6 L541.9,57.3 L550.3,57.9 L552.4,58.9 L555.6,52.6 L560.8,62.5 L566.0,71.5 L570.2,71.9 L572.3,73.0 L575.9,58.3 L580.7,71.9 L586.4,84.9 L590.1,84.9 L593.3,74.0 L597.5,74.0 L602.7,75.1 L606.9,85.6 L611.1,82.4 L614.3,78.2 L617.8,69.4 L621.6,69.8 L625.8,71.9 L630.0,78.2 L635.2,84.9 L638.4,85.6 L642.1,100.2 L645.1,103.8 L648.4,99.2 L652.5,104.4 L655.4,109.6 L658.4,110.2 L661.5,122.8 L665.7,123.9 L669.9,115.1 L673.1,114.4 L676.2,117.6 L679.4,108.1 L682.5,103.9 L686.7,97.0 L690.9,101.2 L694.0,104.6 L697.2,103.9 L700.3,99.7 L703.5,88.2 L707.7,65.2 L710.8,60.3 L713.9,64.1 L720.2,64.1 L724.4,71.0 L728.6,76.7 L731.8,76.7 L734.9,72.1 L739.1,71.4 L742.2,78.8 L746.4,77.7 L752.3,77.7 L755.9,84.0 L759.0,105.0 L763.2,107.1 L767.4,97.7 L772.6,81.9 L777.5,87.2 L783.1,92.0 L787.3,86.1 L793.6,85.7 L796.8,90.3 L799.9,100.3 L803.1,100.3 L806.3,97.2 L810.5,89.8 L814.3,84.6 L817.8,91.9 L821.0,95.7 L824.7,102.4 L827.7,97.8 L831.4,102.4 L834.6,105.6 L838.8,116.0 L841.9,118.8 L845.7,116.0 L850.3,118.8 L855.6,125.9 L859.7,112.9 L865.0,102.0 L868.8,105.6 L872.3,100.7 L876.5,101.4 L879.7,99.9 L882.8,108.3 L886.0,128.0 L889.1,128.0 L892.2,123.4 L896.9,115.0 L900.2,121.3 L903.1,110.8 L906.9,81.9 L910.7,84.6 L914.3,78.3 L917.4,78.3 L921.6,115.0 L924.1,123.4 L927.9,120.2 L931.7,131.8 L934.5,121.0 L937.9,117.0 L941.7,129.2 L945.1,126.4 L948.9,126.4 L951.7,127.9 L955.5,128.3 L958.7,129.2 L961.7,116.0 L964.9,114.7 L967.7,117.9 L970.6,124.5 L973.0,133.0 L975.7,140.6 L979.0,138.7 L980.6,141.5 L982.9,180.0 L986.1,211.4 L989.8,194.2 L992.8,230.3 L996.5,243.9 L1000.7,261.7 L1003.9,266.9 L1007.0,271.1" fill="none" stroke="#cb3a49" stroke-width="2.2" stroke-linejoin="round" clip-path="url(#below)"/>
<path d="M9.3,58.7 L12.6,61.2 L16.4,68.6 L21.8,70.3 L28.5,72.0 L33.6,71.6 L39.4,72.3 L46.1,81.2 L49.5,79.5 L55.4,80.7 L59.6,70.0 L66.3,84.6 L70.1,82.0 L73.8,68.6 L77.2,67.8 L81.4,61.0 L86.4,53.9 L91.4,53.2 L94.8,52.7 L98.2,54.9 L100.7,49.0 L104.0,62.8 L108.2,59.4 L115.8,59.4 L121.6,62.2 L125.7,58.7 L128.5,57.7 L131.7,54.9 L138.9,64.3 L146.4,71.3 L150.2,70.6 L154.9,70.9 L159.6,74.7 L163.4,76.6 L166.2,80.8 L170.0,80.0 L176.6,83.2 L180.4,82.6 L187.0,76.2 L193.6,78.9 L199.2,78.1 L204.0,80.4 L210.6,62.5 L215.3,54.9 L221.9,37.9 L225.7,34.7 L230.4,35.1 L235.1,33.2 L238.9,38.9 L242.3,43.6 L245.5,39.8 L249.2,43.0 L253.0,44.5 L256.8,48.3 L259.6,47.9 L262.5,55.8 L263.4,56.8 L269.0,57.7 L272.8,60.6 L280.4,61.1 L282.3,49.2 L286.0,47.9 L289.8,44.5 L292.6,32.8 L296.4,30.4 L300.2,31.7 L304.0,37.9 L307.7,55.2 L313.6,55.4 L317.5,62.5 L321.3,69.4 L325.1,63.4 L327.9,61.9 L331.7,65.3 L335.5,61.9 L338.7,60.6 L342.5,63.8 L345.8,64.3 L348.7,67.2 L352.5,78.5 L355.3,78.9 L359.0,87.9 L362.8,97.7 L366.2,97.7 L370.0,80.8 L373.2,75.7 L377.0,65.3 L379.8,53.6 L383.2,48.3 L387.0,53.6 L390.2,56.8 L394.0,61.1 L397.2,56.8 L401.5,64.3 L406.2,66.8 L410.0,69.0 L413.8,82.6 L418.5,82.6 L424.2,76.6 L427.9,63.4 L431.1,56.8 L434.9,61.5 L442.1,55.8 L445.8,57.7 L449.6,55.8 L451.9,55.0 L457.2,60.6 L462.5,65.7 L466.6,57.7 L469.4,53.6 L472.6,52.5 L476.0,42.6 L479.8,45.5 L483.2,47.9 L487.0,44.9 L490.2,45.5 L494.0,44.5 L497.7,47.9 L502.5,48.9 L509.4,47.8 L512.6,49.3 L516.8,49.9 L521.0,47.4 L524.1,49.9 L527.7,45.7 L531.0,55.6 L534.6,55.2 L537.7,55.6 L541.9,57.3 L550.3,57.9 L552.4,58.9 L555.6,52.6 L560.8,62.5 L566.0,71.5 L570.2,71.9 L572.3,73.0 L575.9,58.3 L580.7,71.9 L586.4,84.9 L590.1,84.9 L593.3,74.0 L597.5,74.0 L602.7,75.1 L606.9,85.6 L611.1,82.4 L614.3,78.2 L617.8,69.4 L621.6,69.8 L625.8,71.9 L630.0,78.2 L635.2,84.9 L638.4,85.6 L642.1,100.2 L645.1,103.8 L648.4,99.2 L652.5,104.4 L655.4,109.6 L658.4,110.2 L661.5,122.8 L665.7,123.9 L669.9,115.1 L673.1,114.4 L676.2,117.6 L679.4,108.1 L682.5,103.9 L686.7,97.0 L690.9,101.2 L694.0,104.6 L697.2,103.9 L700.3,99.7 L703.5,88.2 L707.7,65.2 L710.8,60.3 L713.9,64.1 L720.2,64.1 L724.4,71.0 L728.6,76.7 L731.8,76.7 L734.9,72.1 L739.1,71.4 L742.2,78.8 L746.4,77.7 L752.3,77.7 L755.9,84.0 L759.0,105.0 L763.2,107.1 L767.4,97.7 L772.6,81.9 L777.5,87.2 L783.1,92.0 L787.3,86.1 L793.6,85.7 L796.8,90.3 L799.9,100.3 L803.1,100.3 L806.3,97.2 L810.5,89.8 L814.3,84.6 L817.8,91.9 L821.0,95.7 L824.7,102.4 L827.7,97.8 L831.4,102.4 L834.6,105.6 L838.8,116.0 L841.9,118.8 L845.7,116.0 L850.3,118.8 L855.6,125.9 L859.7,112.9 L865.0,102.0 L868.8,105.6 L872.3,100.7 L876.5,101.4 L879.7,99.9 L882.8,108.3 L886.0,128.0 L889.1,128.0 L892.2,123.4 L896.9,115.0 L900.2,121.3 L903.1,110.8 L906.9,81.9 L910.7,84.6 L914.3,78.3 L917.4,78.3 L921.6,115.0 L924.1,123.4 L927.9,120.2 L931.7,131.8 L934.5,121.0 L937.9,117.0 L941.7,129.2 L945.1,126.4 L948.9,126.4 L951.7,127.9 L955.5,128.3 L958.7,129.2 L961.7,116.0 L964.9,114.7 L967.7,117.9 L970.6,124.5 L973.0,133.0 L975.7,140.6 L979.0,138.7 L980.6,141.5 L982.9,180.0 L986.1,211.4 L989.8,194.2 L992.8,230.3 L996.5,243.9 L1000.7,261.7 L1003.9,266.9 L1007.0,271.1" fill="none" stroke="#1bb57c" stroke-width="2.2" stroke-linejoin="round" clip-path="url(#above)"/>
</g>
<!-- CMC logo -->
<g transform="translate(864,309.5)" fill="none" stroke="#d3d9e3" stroke-width="2.2">
<circle r="10.5"/>
<path d="M-7.3,5.8 L-1.6,-5 L0.3,1.2 L3.8,-3.4 Q5.8,-1 6.2,0.8 L10.5,1.8" stroke-linejoin="round" stroke-linecap="round"/>
</g>
<!-- navigator -->
<line x1="7" y1="410.5" x2="1007" y2="410.5" stroke="#f4f4f5" stroke-width="1"/>
<line x1="7" y1="413.5" x2="1007" y2="413.5" stroke="#eef0f3" stroke-width="1"/>
<line x1="7" y1="453.5" x2="1007" y2="453.5" stroke="#eef0f3" stroke-width="1"/>
<line x1="103.5" y1="413" x2="103.5" y2="453" stroke="#eef0f3" stroke-width="1"/>
<line x1="235.5" y1="413" x2="235.5" y2="453" stroke="#eef0f3" stroke-width="1"/>
<line x1="367.5" y1="413" x2="367.5" y2="453" stroke="#eef0f3" stroke-width="1"/>
<line x1="498.5" y1="413" x2="498.5" y2="453" stroke="#eef0f3" stroke-width="1"/>
<line x1="630.5" y1="413" x2="630.5" y2="453" stroke="#eef0f3" stroke-width="1"/>
<line x1="761.5" y1="413" x2="761.5" y2="453" stroke="#eef0f3" stroke-width="1"/>
<line x1="891.5" y1="413" x2="891.5" y2="453" stroke="#eef0f3" stroke-width="1"/>
<path d="M7.0,452.5 L8.6,452.5 L10.2,452.6 L11.8,452.4 L13.4,452.6 L15.0,452.5 L16.6,452.4 L18.2,452.6 L19.8,452.4 L21.4,452.6 L23.0,452.4 L24.6,452.4 L26.2,452.6 L27.8,452.6 L29.4,452.4 L31.1,452.5 L32.7,452.6 L34.3,452.6 L35.9,452.6 L37.5,452.6 L39.1,452.6 L40.7,452.4 L42.3,452.6 L43.9,452.5 L45.5,452.5 L47.1,452.4 L48.7,452.5 L50.3,452.6 L51.9,452.5 L53.5,452.6 L55.1,452.6 L56.7,452.5 L58.3,452.6 L59.9,452.4 L61.5,452.4 L63.1,452.5 L64.7,452.6 L66.3,452.6 L67.9,452.5 L69.5,452.6 L71.1,452.6 L72.7,452.5 L74.3,452.6 L75.9,452.6 L77.6,452.5 L79.2,452.6 L80.8,452.6 L82.4,452.6 L84.0,452.6 L85.6,452.5 L87.2,452.6 L88.8,452.4 L90.4,452.6 L92.0,452.6 L93.6,452.5 L95.2,452.6 L96.8,452.4 L98.4,452.6 L100.0,452.6 L101.6,452.6 L103.2,452.6 L104.8,452.5 L106.5,452.6 L108.1,452.6 L109.7,452.6 L111.3,452.5 L112.9,452.6 L114.5,452.6 L116.1,452.5 L117.7,452.6 L119.4,452.3 L121.0,452.6 L122.6,452.5 L124.2,452.6 L125.8,452.6 L127.4,452.3 L129.0,452.4 L130.6,452.5 L132.3,452.2 L133.9,452.4 L135.5,452.3 L137.1,452.2 L138.7,452.2 L140.3,452.5 L141.9,452.2 L143.5,452.2 L145.2,452.3 L146.8,452.5 L148.4,452.1 L150.0,452.3 L151.6,452.3 L153.2,452.5 L154.8,452.4 L156.5,452.5 L158.1,452.2 L159.7,452.3 L161.3,452.3 L162.9,452.5 L164.5,452.5 L166.1,452.2 L167.7,452.2 L169.4,452.2 L171.0,452.2 L172.6,452.3 L174.2,452.4 L175.8,452.3 L177.4,452.2 L179.0,452.3 L180.6,452.3 L182.3,452.4 L183.9,452.5 L185.5,452.4 L187.1,452.4 L188.7,452.4 L190.3,452.5 L191.9,452.2 L193.5,452.5 L195.2,452.5 L196.8,452.5 L198.4,452.5 L200.0,452.4 L201.6,452.4 L203.2,452.2 L204.8,452.4 L206.5,452.2 L208.1,452.2 L209.7,452.3 L211.3,452.2 L212.9,452.3 L214.5,452.2 L216.1,452.2 L217.7,452.2 L219.4,452.2 L221.0,452.3 L222.6,452.2 L224.2,452.5 L225.8,452.4 L227.4,452.2 L229.0,452.2 L230.6,452.3 L232.3,452.3 L233.9,452.2 L235.5,452.5 L237.1,452.5 L238.7,452.3 L240.3,452.3 L241.9,452.2 L243.5,452.2 L245.2,452.2 L246.8,452.2 L248.4,452.4 L250.0,452.2 L251.6,452.1 L253.2,452.5 L254.8,452.3 L256.5,452.1 L258.1,452.3 L259.7,452.1 L261.3,452.3 L262.9,452.5 L264.5,452.4 L266.1,452.3 L267.7,452.2 L269.4,452.2 L271.0,452.1 L272.6,452.4 L274.2,452.3 L275.8,452.4 L277.4,452.2 L279.0,452.1 L280.6,452.4 L282.3,452.4 L283.9,452.4 L285.5,452.4 L287.1,452.4 L288.7,452.3 L290.3,452.1 L291.9,452.2 L293.5,452.2 L295.2,452.0 L296.8,452.0 L298.4,452.1 L300.0,452.1 L301.6,452.3 L303.2,452.4 L304.8,452.2 L306.5,452.4 L308.1,452.4 L309.7,452.4 L311.3,452.2 L312.9,452.1 L314.5,452.1 L316.1,452.1 L317.7,452.1 L319.4,452.3 L321.0,452.4 L322.6,452.4 L324.2,452.2 L325.8,452.3 L327.4,452.4 L329.0,452.1 L330.6,452.3 L332.3,452.4 L333.9,452.4 L335.5,452.4 L337.1,452.3 L338.7,452.1 L340.3,452.4 L341.9,452.2 L343.5,452.4 L345.2,452.5 L346.8,452.3 L348.4,452.3 L350.0,452.5 L351.6,452.4 L353.2,452.2 L354.8,452.2 L356.5,452.2 L358.1,452.5 L359.7,452.4 L361.3,452.2 L362.9,452.5 L364.5,452.5 L366.1,452.4 L367.7,452.3 L369.4,452.4 L371.0,452.2 L372.6,452.2 L374.2,452.5 L375.8,452.4 L377.4,452.4 L379.0,452.5 L380.6,452.3 L382.3,452.5 L383.9,452.5 L385.5,452.3 L387.1,452.3 L388.7,452.3 L390.3,452.3 L391.9,452.4 L393.5,452.3 L395.2,452.4 L396.8,452.2 L398.4,452.6 L400.0,452.3 L401.6,452.4 L403.2,452.4 L404.9,452.5 L406.5,452.3 L408.1,452.5 L409.7,452.4 L411.3,452.4 L412.9,452.3 L414.6,452.1 L416.2,452.3 L417.8,452.2 L419.4,452.1 L421.0,452.4 L422.7,452.2 L424.3,452.3 L425.9,452.4 L427.5,452.3 L429.1,452.2 L430.7,452.3 L432.4,452.3 L434.0,452.3 L435.6,452.1 L437.2,452.2 L438.8,452.1 L440.5,452.1 L442.1,452.3 L443.7,452.2 L445.3,452.2 L446.9,452.3 L448.6,452.3 L450.2,452.1 L451.8,452.2 L453.4,452.1 L455.0,452.1 L456.6,452.2 L458.3,452.1 L459.9,452.1 L461.5,452.1 L463.1,452.3 L464.7,452.2 L466.4,452.2 L468.0,452.2 L469.6,452.0 L471.2,452.1 L472.8,452.2 L474.4,452.2 L476.1,451.9 L477.7,451.9 L479.3,452.0 L481.1,451.5 L482.8,451.3 L484.6,451.0 L486.3,451.0 L488.1,450.8 L489.8,450.6 L491.6,449.7 L493.3,449.9 L495.1,449.6 L497.0,449.4 L498.9,450.4 L500.9,450.8 L502.8,450.5 L504.7,451.3 L506.3,451.0 L508.0,451.1 L509.6,451.3 L511.2,451.3 L512.9,451.1 L514.5,451.3 L516.1,451.3 L517.8,451.3 L519.4,451.3 L521.0,451.4 L522.7,451.6 L524.3,451.4 L525.9,451.7 L527.6,451.7 L529.2,451.5 L530.8,451.7 L532.5,451.9 L534.1,451.9 L535.7,451.7 L537.4,452.2 L539.0,452.1 L540.6,452.3 L542.3,452.0 L543.9,452.1 L545.5,452.0 L547.2,452.4 L548.8,452.2 L550.4,452.2 L552.1,452.4 L553.7,452.6 L555.3,452.6 L557.0,452.5 L558.6,452.5 L560.3,452.6 L561.9,452.5 L563.6,452.4 L565.3,452.1 L566.9,452.0 L568.6,452.2 L570.3,452.0 L571.9,451.8 L573.6,452.0 L575.3,451.8 L577.0,451.8 L578.6,451.4 L580.3,451.6 L582.0,451.2 L583.6,451.5 L585.3,451.2 L587.0,451.1 L588.6,451.1 L590.3,451.3 L592.0,450.9 L593.6,451.0 L595.3,451.2 L597.0,451.1 L598.6,451.1 L600.3,451.2 L602.0,451.2 L603.6,451.3 L605.3,451.4 L607.0,451.4 L608.7,451.7 L610.3,451.5 L612.0,451.7 L613.7,451.6 L615.3,451.7 L617.0,451.6 L618.7,451.8 L620.3,451.8 L622.0,452.1 L623.7,452.0 L625.3,451.8 L627.0,451.8 L628.7,452.0 L630.3,451.6 L632.0,451.8 L633.7,451.6 L635.3,451.6 L637.0,451.7 L638.7,451.4 L640.4,451.4 L642.0,451.4 L643.7,451.5 L645.4,451.2 L647.0,451.3 L648.7,451.2 L650.4,451.2 L652.0,451.0 L653.7,450.9 L655.4,450.5 L657.0,450.4 L658.7,450.1 L660.4,450.5 L662.0,449.9 L663.7,449.7 L665.4,449.4 L667.0,450.0 L668.7,449.9 L670.4,449.5 L672.1,448.9 L673.7,448.7 L675.4,448.6 L677.1,448.6 L678.7,448.1 L680.4,448.2 L682.1,447.8 L683.7,448.5 L685.4,448.4 L687.0,447.0 L688.6,445.6 L690.2,445.9 L691.8,443.8 L693.4,443.0 L695.0,441.3 L696.9,441.3 L698.8,440.7 L700.7,439.9 L702.6,438.3 L704.5,438.3 L706.4,436.2 L708.3,436.3 L710.2,435.1 L712.1,435.4 L714.0,433.6 L715.8,434.4 L717.6,436.1 L719.4,436.7 L721.2,438.5 L723.1,439.2 L725.0,440.6 L726.9,441.1 L728.8,442.1 L730.7,443.2 L732.3,441.5 L733.9,440.8 L735.5,441.7 L737.1,439.0 L738.7,439.9 L740.6,438.8 L742.4,436.3 L744.2,437.8 L746.1,437.1 L747.9,435.5 L749.8,434.9 L751.7,436.0 L753.6,434.7 L755.5,436.7 L757.4,437.5 L759.3,439.2 L761.1,439.6 L762.9,440.1 L764.7,439.9 L766.6,441.1 L768.4,441.0 L770.2,441.5 L772.0,440.9 L773.8,440.7 L775.6,441.1 L777.4,441.8 L779.3,441.5 L781.1,443.3 L782.9,442.9 L784.7,443.3 L786.5,443.6 L788.2,444.1 L790.0,444.0 L791.7,443.5 L793.5,445.3 L795.2,445.6 L797.0,445.5 L798.7,445.9 L800.5,446.4 L802.3,445.7 L804.0,446.9 L805.8,446.4 L807.6,446.3 L809.3,446.8 L811.1,447.6 L812.9,447.1 L814.6,447.9 L816.4,448.4 L818.2,447.8 L820.0,447.7 L821.8,447.8 L823.6,448.0 L825.4,448.1 L827.2,447.9 L829.0,448.0 L830.8,447.0 L832.5,446.8 L834.3,446.7 L836.1,447.2 L837.8,446.3 L839.6,446.4 L841.4,445.3 L843.1,445.1 L844.9,445.2 L846.6,445.8 L848.4,445.7 L850.1,445.6 L851.8,444.9 L853.6,445.2 L855.3,445.0 L857.1,444.9 L858.8,444.2 L860.5,445.5 L862.3,444.2 L864.0,445.5 L865.8,445.2 L867.5,443.4 L869.3,444.0 L871.0,444.5 L872.8,444.6 L874.5,443.4 L876.3,442.9 L878.0,442.6 L879.8,443.9 L881.6,442.0 L883.3,442.4 L885.1,441.0 L886.9,441.4 L888.6,442.0 L890.4,439.6 L892.2,440.9 L893.9,439.7 L895.7,440.3 L897.8,438.5 L899.9,435.7 L902.0,436.4 L903.9,434.7 L905.8,432.9 L907.7,432.6 L909.6,433.8 L911.5,433.3 L913.3,433.0 L915.1,432.6 L916.9,433.3 L918.8,433.3 L920.6,435.1 L922.4,432.5 L924.2,435.0 L926.1,434.8 L928.0,432.1 L929.9,434.2 L931.8,433.1 L933.7,433.3 L935.6,431.0 L937.5,431.0 L939.4,430.7 L941.3,432.3 L943.2,430.7 L945.1,428.7 L947.0,427.6 L949.0,425.8 L950.9,423.8 L952.8,422.7 L954.9,424.5 L957.0,422.2 L959.1,423.8 L960.9,422.1 L962.7,422.6 L964.5,423.8 L966.4,423.2 L968.2,424.3 L970.0,426.6 L971.8,426.8 L973.7,426.2 L975.6,425.1 L977.5,425.6 L979.4,425.3 L981.3,423.6 L983.1,423.5 L984.9,420.8 L986.7,422.4 L988.6,420.9 L990.4,421.3 L992.2,420.3 L994.0,418.6 L996.1,417.5 L998.2,420.0 L1000.3,417.1 L1001.9,420.1 L1003.5,421.6 L1005.1,423.4 L1005.1,452.6 L7,452.6 Z" fill="#edf0f4"/>
<rect x="999.5" y="424.5" width="13" height="16" rx="6" fill="#fff" stroke="#dfe3ea"/>
<line x1="1004.5" y1="429" x2="1004.5" y2="436" stroke="#8a94a6"/>
<line x1="1007.5" y1="429" x2="1007.5" y2="436" stroke="#8a94a6"/>
<!-- history badge -->
<path d="M8,396.5 L18,384.5 L47,384.5 A12,12 0 0 1 47,408.5 L18,408.5 Z" fill="#a6b0c3"/>
<g transform="translate(24.5,396.5)" fill="none" stroke="#fff" stroke-width="1.6">
<path d="M-4.6,-2.5 A5.2,5.2 0 1 1 -4.6,2.5" />
<path d="M0,-2.8 L0,0.4 L2.4,2"/>
<path d="M-6.2,-4.6 L-4.6,-2.3 L-2.2,-3.4" stroke-width="1.3"/>
</g>
<!-- watermark logo -->
<g fill="#8c8c8c">
<path d="M964.3,440.2 Q977,442.6 990,439.2 L989.6,440.9 Q977,443.8 964.6,442.2 Z"/>
<path d="M997,445.2 C990,443 976,442 970,449 C966,454 965.5,464 968.5,470 C971,474.5 980,477 988,475.5 L988,473.5 C981,474 973.5,471.5 971.8,466 C970,460 971,453 975,449.5 C980,446 990,445.5 997,445.2 Z"/>
<path d="M982.3,458.9 L983.5,461.5 L986.1,462.7 L983.5,463.9 L982.3,466.5 L981.1,463.9 L978.5,462.7 L981.1,461.5 Z"/>
</g>
<path d="M981.6,452.2 A11,11 0 1 1 981.6,473.8" fill="none" stroke="#8c8c8c" stroke-width="2.3"/>
</svg>
<div id="ref">115.74K</div>
<div class="pl" style="top:44.3px">115.75K</div>
<div class="pl" style="top:86.5px">115.50K</div>
<div class="pl" style="top:128.7px">115.25K</div>
<div class="pl" style="top:170.9px">115.00K</div>
<div class="pl" style="top:213.1px">114.75K</div>
<div class="pl" style="top:297.5px">114.25K</div>
<div id="cur">114.45K</div>
<div id="usd">USD</div>
<div id="cmc">CoinMarketCap</div>
<div class="tl" style="left:10.2px">2:00 AM</div>
<div class="tl" style="left:92.9px">4:00 AM</div>
<div class="tl" style="left:175.7px">6:00 AM</div>
<div class="tl" style="left:258.4px">8:00 AM</div>
<div class="tl" style="left:341.2px">10:00 AM</div>
<div class="tl" style="left:423.9px">12:00 PM</div>
<div class="tl" style="left:506.7px">2:00 PM</div>
<div class="tl" style="left:589.5px">4:00 PM</div>
<div class="tl" style="left:672.2px">6:00 PM</div>
<div class="tl" style="left:755.0px">8:00 PM</div>
<div class="tl" style="left:837.7px">10:00 PM</div>
<div class="tl" style="left:920.5px">22 Sep</div>
<div id="hist"><svg width="51" height="25" style="position:absolute;left:0;top:0"></svg><span>124</span></div>
<div id="an"><svg width="86" height="24" style="position:absolute;left:0;top:0">
<g transform="translate(14,12)" fill="none" stroke="#fff" stroke-width="1.5">
<path d="M-4.5,4.8 A6.2,6.2 0 1 1 -1,6.1 L-5,6.6 Z" stroke-linejoin="round"/>
<path d="M-3.6,2 L-1.8,-2 L0,1.2 L1.8,-2 L3.6,2" stroke-linejoin="round"/>
</g>
<path d="M71.5,8 L75.5,12 L71.5,16" fill="none" stroke="#fff" stroke-width="1.5"/>
</svg><span>Analyze</span></div>
<div class="yl" style="left:75.5px">2012</div>
<div class="yl" style="left:207.0px">2014</div>
<div class="yl" style="left:338.5px">2016</div>
<div class="yl" style="left:470.0px">2018</div>
<div class="yl" style="left:601.5px">2020</div>
<div class="yl" style="left:733.0px">2022</div>
<div class="yl" style="left:864.5px">2024</div>
<div id="wm1">币圈网</div>
<div id="wm2l" style="left:1003px;width:12px"></div><div id="wm2">ALIBTC.COM</div><div id="wm2r" style="left:1059px;width:13px"></div>
</body></html>
